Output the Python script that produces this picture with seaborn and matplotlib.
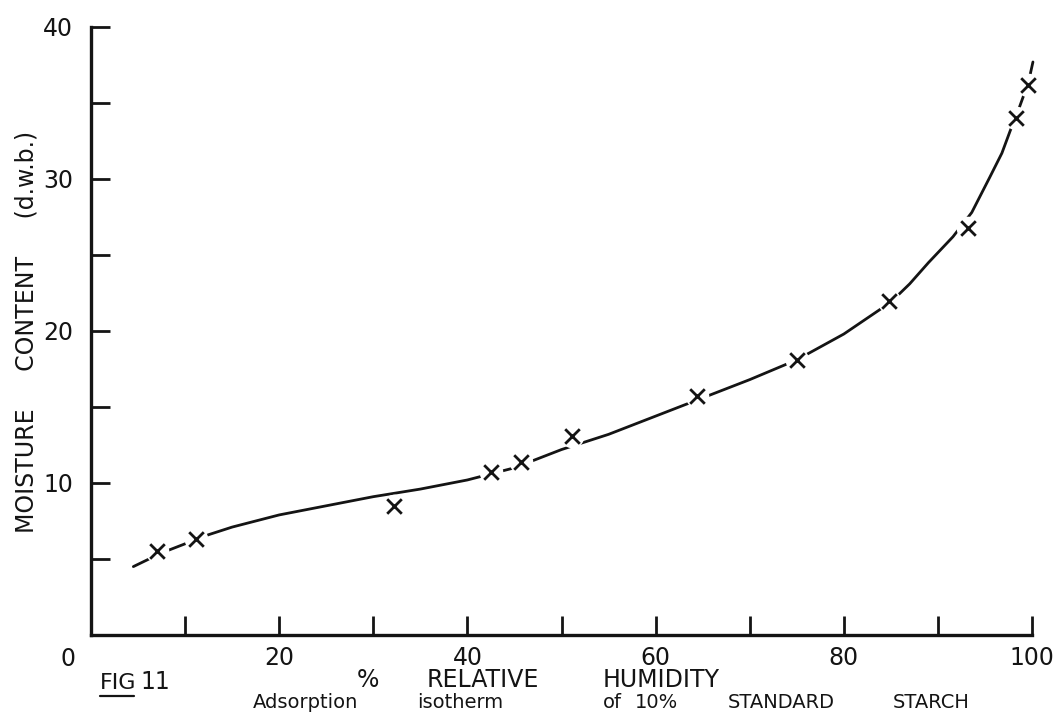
import matplotlib
matplotlib.use("Agg")
import matplotlib.pyplot as plt
import seaborn as sns
import pandas as pd
from matplotlib.lines import Line2D

# measured points (% RH, moisture content d.w.b.)
rh_points = [7.0, 11.2, 32.2, 42.5, 45.7, 51.1, 64.4, 75.0, 84.8, 93.2, 98.3, 99.6]
mc_points = [5.5, 6.3, 8.5, 10.7, 11.4, 13.1, 15.7, 18.1, 22.0, 26.8, 34.0, 36.2]

# hand-drawn fitted curve
curve_rh = [4.5, 7.5, 10, 12.5, 15, 20, 25, 30, 35, 40, 45, 50, 55, 60, 65, 70, 75,
            80, 85, 87, 89, 91.6, 93.6, 95.5, 96.8, 97.7, 98.3, 99.0, 99.6, 100.1]
curve_mc = [4.5, 5.4, 6.0, 6.6, 7.1, 7.9, 8.5, 9.1, 9.6, 10.2, 11.0, 12.2, 13.2,
            14.4, 15.6, 16.8, 18.1, 19.8, 21.9, 23.1, 24.5, 26.2, 27.8, 30.1, 31.7,
            33.2, 34.1, 35.3, 36.3, 37.7]

x_major = [0, 10, 20, 30, 40, 50, 60, 70, 80, 90, 100]
x_labels = ["", "", "20", "", "40", "", "60", "", "80", "", "100"]
y_ticks = [0, 5, 10, 15, 20, 25, 30, 35, 40]
y_labels = ["", "", "10", "", "20", "", "30", "", "40"]

title_words = ["%", "RELATIVE", "HUMIDITY"]
caption_words = ["Adsorption", "isotherm", "of", "10%", "STANDARD", "STARCH"]

sns.set_theme(style="white")
plt.rcParams["font.family"] = ["DejaVu Sans"]

W, H = 1063, 713
INK = "#141414"
fig = plt.figure(figsize=(W / 100, H / 100), dpi=100)
ax = fig.add_axes([91 / W, 1 - 635 / H, (1032 - 91) / W, (635 - 27) / H])

curve = pd.DataFrame({"rh": curve_rh, "mc": curve_mc})
pts = pd.DataFrame({"rh": rh_points, "mc": mc_points})

sns.lineplot(data=curve, x="rh", y="mc", ax=ax, color=INK, linewidth=2.0,
             sort=False, clip_on=False, zorder=2)
# white halo to create the gaps in the line around each cross
ax.plot(pts["rh"], pts["mc"], linestyle="none", marker="o", markersize=17,
        markerfacecolor="white", markeredgecolor="none", zorder=3, clip_on=False)
sns.scatterplot(data=pts, x="rh", y="mc", ax=ax, marker="x", s=110, color=INK,
                linewidth=2.0, zorder=4, clip_on=False)

ax.set_xlim(0, 100)
ax.set_ylim(0, 40)
ax.set_xticks(x_major)
ax.set_xticklabels(x_labels)
ax.set_yticks(y_ticks)
ax.set_yticklabels(y_labels)
ax.tick_params(axis="both", direction="in", length=14, width=2.0, color=INK,
               labelsize=17, labelcolor=INK, bottom=True, left=True)
ax.tick_params(axis="x", pad=8)
ax.tick_params(axis="y", pad=13)
for s in ["top", "right"]:
    ax.spines[s].set_visible(False)
for s in ["left", "bottom"]:
    ax.spines[s].set_linewidth(2.4)
    ax.spines[s].set_color(INK)
ax.set_xlabel("")
ax.set_ylabel("")

# origin label
ax.text(-2.4, -1.6, "0", ha="center", va="center", fontsize=17, color=INK,
        clip_on=False)

# y-axis title
fig.text(27 / W, 1 - 332 / H, "MOISTURE     CONTENT     (d.w.b.)", rotation=90,
         ha="center", va="center", fontsize=17, color=INK)

# FIG 11
fig.text(100 / W, 1 - 689 / H, "FIG", ha="left", va="baseline", fontsize=16,
         color=INK)
fig.text(140 / W, 1 - 689 / H, "11", ha="left", va="baseline", fontsize=17,
         color=INK)
fig.add_artist(Line2D([100 / W, 134 / W], [1 - 696 / H, 1 - 696 / H],
                      color=INK, linewidth=1.6, transform=fig.transFigure))

# x title
title_x = [357, 427, 603]
for word, xp in zip(title_words, title_x):
    fig.text(xp / W, 1 - 692 / H, word, ha="left", va="bottom", fontsize=17,
             color=INK)

# caption line (cut off at the bottom edge in the original scan)
caption_x = [253, 417, 603, 635, 728, 893]
for word, xp in zip(caption_words, caption_x):
    fig.text(xp / W, 1 - 693.5 / H, word, ha="left", va="top", fontsize=14,
             color=INK)

fig.savefig("out.png", dpi=100, facecolor="white")
